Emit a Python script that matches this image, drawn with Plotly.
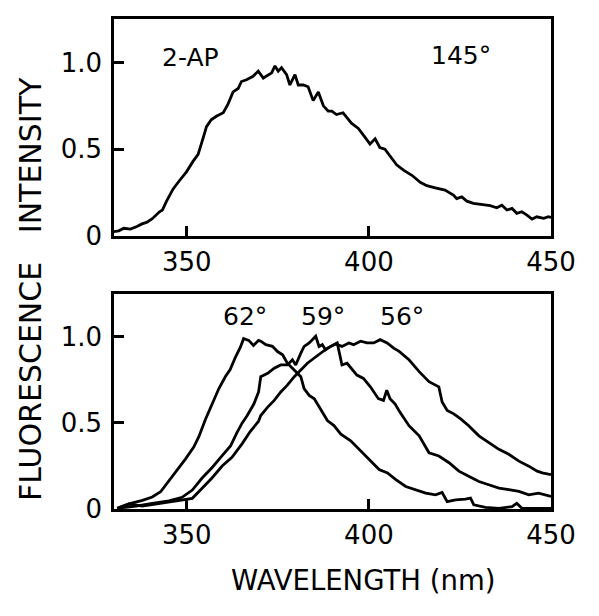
import plotly.graph_objects as go
from plotly.subplots import make_subplots

# ---- Data ----
wl_145 = [329.9, 331.3, 332.7, 334.5, 336.3, 337.7, 339.1, 340.5, 342.5, 343.3, 344.4, 346.2, 348.0, 349.9,
          351.7, 353.1, 354.4, 355.4, 356.7, 358.1, 360.0, 361.3, 362.7, 364.1, 365.0, 366.4, 368.2, 369.6,
          371.0, 372.4, 373.3, 374.2, 375.1, 376.0, 377.4, 378.3, 379.7, 380.6, 382.0, 383.3, 384.7, 386.1,
          387.5, 388.8, 389.8, 391.1, 392.9, 395.2, 397.1, 398.9, 400.3, 401.7, 403.0, 404.4, 405.8, 407.6,
          409.5, 411.8, 414.1, 415.9, 418.2, 420.9, 423.2, 424.1, 425.5, 426.9, 428.7, 431.0, 433.3, 435.1,
          436.5, 437.9, 439.3, 440.6, 442.0, 443.4, 444.8, 446.1, 448.0, 449.3, 450.0]
int_145 = [0.025, 0.03, 0.045, 0.04, 0.055, 0.07, 0.08, 0.10, 0.14, 0.15, 0.20, 0.27, 0.32, 0.37,
           0.43, 0.47, 0.56, 0.63, 0.67, 0.69, 0.71, 0.76, 0.83, 0.85, 0.89, 0.90, 0.92, 0.95,
           0.91, 0.93, 0.94, 0.98, 0.95, 0.97, 0.93, 0.87, 0.93, 0.87, 0.87, 0.86, 0.78, 0.83,
           0.75, 0.72, 0.72, 0.70, 0.71, 0.65, 0.62, 0.57, 0.53, 0.56, 0.51, 0.50, 0.46, 0.41,
           0.38, 0.35, 0.31, 0.29, 0.278, 0.265, 0.236, 0.216, 0.226, 0.201, 0.188, 0.182, 0.175, 0.163,
           0.178, 0.150, 0.159, 0.131, 0.140, 0.121, 0.098, 0.111, 0.102, 0.111, 0.108]

wl_62 = [330.9, 334.1, 337.8, 340.5, 342.8, 344.6, 346.9, 349.6, 351.9, 353.3, 355.1, 356.9, 358.8, 360.6,
         361.9, 363.3, 364.7, 365.6, 367.0, 368.3, 369.7, 370.3, 371.7, 373.5, 374.9, 376.3, 377.6, 379.0,
         379.9, 381.3, 382.2, 383.6, 385.0, 386.8, 388.6, 390.4, 392.3, 395.0, 397.8, 400.5, 402.8, 405.1,
         407.4, 410.1, 412.9, 415.6, 418.3, 420.1, 421.5, 423.8, 426.5, 427.9, 428.8, 432.0, 435.7, 439.3,
         440.6, 442.0, 445.7, 450.0]
int_62 = [0.004, 0.03, 0.05, 0.07, 0.10, 0.15, 0.22, 0.29, 0.36, 0.42, 0.52, 0.61, 0.70, 0.77,
          0.81, 0.88, 0.94, 0.99, 0.98, 0.95, 0.98, 0.975, 0.955, 0.945, 0.915, 0.896, 0.847, 0.818,
          0.798, 0.769, 0.70, 0.66, 0.64, 0.58, 0.514, 0.485, 0.435, 0.396, 0.337, 0.278, 0.229, 0.21,
          0.171, 0.131, 0.112, 0.092, 0.082, 0.096, 0.043, 0.053, 0.057, 0.063, 0.024, 0.01, 0.004, 0.014,
          0.033, 0.004, 0.004, 0.004]

wl_59 = [330.9, 336.0, 340.5, 345.1, 348.7, 351.5, 354.2, 356.9, 359.7, 362.0, 363.8, 365.2, 366.5, 368.4,
         369.7, 370.3, 372.2, 374.0, 375.8, 377.6, 379.0, 379.9, 381.3, 382.2, 383.6, 385.4, 386.3, 387.2,
         388.1, 389.5, 391.3, 392.6, 394.0, 395.4, 396.7, 398.5, 400.4, 402.6, 404.0, 404.9, 405.8, 407.2,
         408.5, 411.0, 413.8, 416.5, 419.2, 422.0, 424.7, 427.4, 430.2, 432.9, 435.7, 438.4, 441.2, 443.9,
         446.6, 450.0]
int_59 = [0.004, 0.017, 0.033, 0.047, 0.068, 0.11, 0.18, 0.24, 0.31, 0.366, 0.445, 0.50, 0.54, 0.61,
          0.68, 0.769, 0.788, 0.818, 0.837, 0.837, 0.867, 0.837, 0.906, 0.945, 0.965, 1.004, 0.945, 0.955,
          0.925, 0.945, 0.965, 0.837, 0.847, 0.808, 0.778, 0.759, 0.71, 0.641, 0.631, 0.69, 0.641, 0.61,
          0.563, 0.484, 0.425, 0.327, 0.308, 0.269, 0.22, 0.19, 0.16, 0.141, 0.121, 0.112, 0.102, 0.082,
          0.092, 0.073]

wl_56 = [330.9, 334.1, 337.8, 341.4, 345.1, 348.7, 351.5, 354.2, 356.9, 359.7, 362.4, 365.2, 367.4, 369.7,
         370.3, 372.2, 374.0, 375.8, 377.6, 379.5, 381.3, 383.1, 384.9, 386.8, 388.6, 390.9, 392.6, 394.5,
         395.8, 397.7, 399.5, 401.3, 403.1, 405.0, 406.8, 408.3, 411.0, 413.8, 416.5, 419.2, 420.1, 421.5,
         423.3, 425.2, 427.4, 430.2, 432.9, 435.7, 438.4, 441.2, 443.9, 446.2, 447.6, 450.0]
int_56 = [0.004, 0.029, 0.017, 0.029, 0.037, 0.049, 0.062, 0.12, 0.18, 0.25, 0.30, 0.38, 0.45, 0.51,
          0.543, 0.592, 0.631, 0.68, 0.72, 0.769, 0.808, 0.847, 0.876, 0.906, 0.935, 0.959, 0.945, 0.965,
          0.955, 0.975, 0.965, 0.965, 0.984, 0.965, 0.935, 0.916, 0.867, 0.798, 0.74, 0.71, 0.622, 0.573,
          0.553, 0.524, 0.484, 0.425, 0.386, 0.347, 0.318, 0.278, 0.249, 0.22, 0.21, 0.2]

x_ticks = [350, 400, 450]
y_ticks = [0, 0.5, 1.0]
y_tick_text = ["0", "0.5", "1.0"]

FONT = "DejaVu Sans"
LINE = dict(color="black", width=2.8)

fig = make_subplots(rows=2, cols=1)
fig.add_trace(go.Scatter(x=wl_145, y=int_145, mode="lines", line=LINE, showlegend=False), row=1, col=1)
for wl, it in [(wl_62, int_62), (wl_59, int_59), (wl_56, int_56)]:
    fig.add_trace(go.Scatter(x=wl, y=it, mode="lines", line=LINE, showlegend=False), row=2, col=1)

axis_common = dict(showline=True, linecolor="black", linewidth=2.5, mirror=True,
                   ticks="inside", ticklen=10, tickwidth=2.5, tickcolor="black",
                   showgrid=False, zeroline=False, automargin=False,
                   tickfont=dict(family=FONT, size=26, color="black"))

fig.update_xaxes(range=[330, 450], tickvals=x_ticks, ticklabelstandoff=1, **axis_common)
fig.update_yaxes(range=[0, 1.25], tickvals=y_ticks, ticktext=y_tick_text, ticklabelstandoff=4, **axis_common)
fig.update_layout(
    yaxis=dict(domain=[0.557, 1.0]),
    yaxis2=dict(domain=[0.0, 0.439]),
)

ann_font = dict(family=FONT, size=25, color="black")
fig.add_annotation(x=350.9, y=1.03, xref="x", yref="y", text="2-AP", showarrow=False, font=ann_font)
fig.add_annotation(x=425.3, y=1.04, xref="x", yref="y", text="145°", showarrow=False, font=ann_font)
fig.add_annotation(x=366.0, y=1.12, xref="x2", yref="y2", text="62°", showarrow=False, font=ann_font)
fig.add_annotation(x=387.4, y=1.12, xref="x2", yref="y2", text="59°", showarrow=False, font=ann_font)
fig.add_annotation(x=409.0, y=1.12, xref="x2", yref="y2", text="56°", showarrow=False, font=ann_font)

fig.add_annotation(x=0.57, y=-0.145, xref="paper", yref="paper", text="WAVELENGTH (nm)",
                   xanchor="center", yanchor="middle",
                   showarrow=False, font=dict(family=FONT, size=27.5, color="black"))
fig.add_annotation(x=-0.19, y=0.449, xref="paper", yref="paper", text="FLUORESCENCE   INTENSITY",
                   xanchor="center", yanchor="middle",
                   textangle=-90, showarrow=False, font=dict(family=FONT, size=30, color="black"))

fig.update_layout(width=599, height=616, margin=dict(l=106, r=56, t=11, b=115),
                  paper_bgcolor="white", plot_bgcolor="white")

fig.write_html("out.html")
